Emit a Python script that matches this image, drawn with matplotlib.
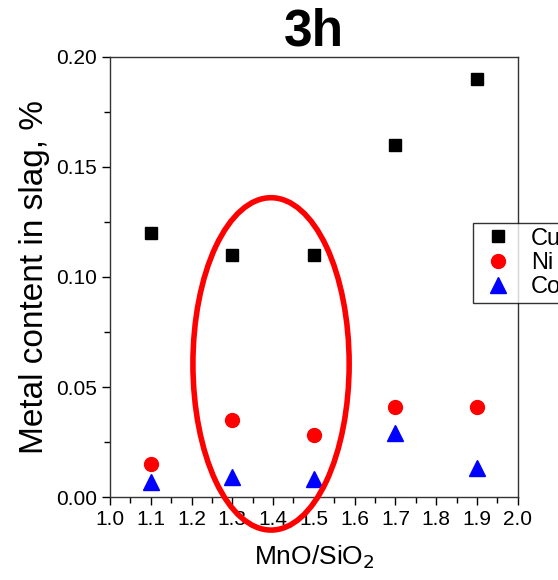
import matplotlib
matplotlib.use("Agg")
import matplotlib.pyplot as plt
from matplotlib.patches import Ellipse
from matplotlib.ticker import MultipleLocator

plt.rcParams["font.family"] = ["Liberation Sans", "DejaVu Sans"]

ratio = [1.1, 1.3, 1.5, 1.7, 1.9]
cu = [0.120, 0.110, 0.110, 0.160, 0.190]
ni = [0.015, 0.035, 0.028, 0.041, 0.041]
co = [0.007, 0.009, 0.008, 0.029, 0.013]

fig = plt.figure(figsize=(5.58, 5.80), dpi=100)
ax = fig.add_axes([0.197, 0.143, 0.731, 0.759])

ax.plot(ratio, cu, "s", color="black", markersize=8.5, label="Cu")
ax.plot(ratio, ni, "o", color="red", markersize=10, label="Ni")
ax.plot(ratio, co, "^", color="blue", markersize=11, label="Co")

# highlight ellipse around 1.3-1.5
ell = Ellipse((1.395, 0.0605), 0.383, 0.151, fill=False, edgecolor="red",
              linewidth=4, clip_on=False, zorder=5)
ax.add_patch(ell)

ax.set_xlim(1.0, 2.0)
ax.set_ylim(0.0, 0.20)
ax.xaxis.set_major_locator(MultipleLocator(0.1))
ax.xaxis.set_minor_locator(MultipleLocator(0.05))
ax.yaxis.set_major_locator(MultipleLocator(0.05))
ax.yaxis.set_minor_locator(MultipleLocator(0.025))
ax.xaxis.set_major_formatter(plt.FormatStrFormatter("%.1f"))
ax.yaxis.set_major_formatter(plt.FormatStrFormatter("%.2f"))
ax.tick_params(which="major", direction="out", length=6, width=1, labelsize=15)
ax.tick_params(which="minor", direction="out", length=4, width=1)
for s in ax.spines.values():
    s.set_color("#333333")
    s.set_linewidth(1)

ax.set_xlabel("MnO/SiO$_2$", fontsize=19, labelpad=10)
ax.set_ylabel("Metal content in slag, %", fontsize=24, labelpad=4)
ax.set_title("3h", fontsize=37, fontweight="bold", pad=3)

leg = ax.legend(loc="upper left", bbox_to_anchor=(473 / 558, 1 - 223 / 580),
                bbox_transform=fig.transFigure, fontsize=17, frameon=True,
                fancybox=False, edgecolor="black", handletextpad=0.5,
                borderpad=0.2, labelspacing=0.1, handlelength=1.75,
                borderaxespad=0)
leg.get_frame().set_linewidth(1)

fig.savefig("out.png", dpi=100)
